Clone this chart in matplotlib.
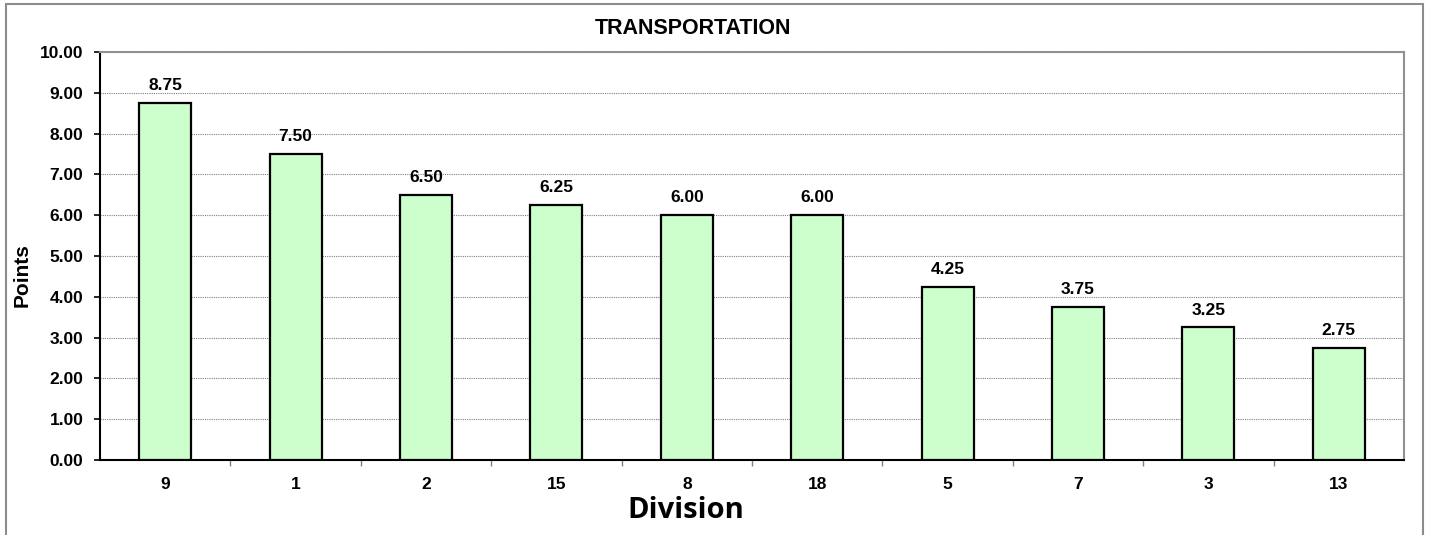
import matplotlib.pyplot as plt
import numpy as np
from matplotlib.patches import Rectangle

divisions = ["9", "1", "2", "15", "8", "18", "5", "7", "3", "13"]
points = [8.75, 7.50, 6.50, 6.25, 6.00, 6.00, 4.25, 3.75, 3.25, 2.75]
title = "TRANSPORTATION"

plt.rcParams['font.family'] = ['Liberation Sans', 'DejaVu Sans']
plt.rcParams['font.weight'] = 'bold'

fig = plt.figure(figsize=(14.29, 5.35), dpi=100)
ax = fig.add_axes([0.07, 0.1402, 0.9125, 0.7626])

x = np.arange(len(divisions))
bars = ax.bar(x, points, width=0.4, color='#CCFFCC', edgecolor='black', linewidth=1.6, zorder=3)
for xi, v in zip(x, points):
    ax.annotate('%.2f' % v, (xi, v), xytext=(0, 7), textcoords='offset points',
                ha='center', va='bottom', fontsize=12.5, fontweight='bold')

ax.set_xlim(-0.5, len(divisions) - 0.5)
ax.set_ylim(0, 10)
ax.set_yticks(np.arange(0, 11, 1))
ax.set_yticklabels(['%.2f' % t for t in np.arange(0, 11, 1)], fontsize=12.5, fontweight='bold')
ax.set_xticks(x)
ax.set_xticklabels(divisions, fontsize=12.5, fontweight='bold')
ax.set_xticks(np.arange(0.5, len(divisions) - 0.5, 1), minor=True)
ax.tick_params(axis='x', which='major', length=0, pad=12)
ax.tick_params(axis='x', which='minor', length=4, width=1, color='#808080')
ax.tick_params(axis='y', length=4, width=1.2, pad=8)

ax.grid(axis='y', linestyle=(0, (1, 1)), color='#808080', linewidth=0.8, zorder=0)
ax.spines['left'].set_linewidth(1.5)
ax.spines['bottom'].set_linewidth(1.5)
ax.spines['top'].set_color('#909090')
ax.spines['right'].set_color('#909090')
ax.spines['top'].set_linewidth(1.5)
ax.spines['right'].set_linewidth(1.5)

fig.text(693 / 1429, 1 - 28 / 535, title, ha='center', va='center', fontsize=15.5, fontweight='bold')
fig.text(22 / 1429, 1 - 275 / 535, 'Points', rotation=90, ha='center', va='center', fontsize=15, fontweight='bold')
fig.text(686 / 1429, 1 - 510 / 535, 'Division', ha='center', va='center', fontsize=21,
         fontweight='bold', family=['Open Sans', 'DejaVu Sans'])

fig.patches.append(Rectangle((6 / 1429, -0.1), 1417 / 1429, 1.1 - 4 / 535, transform=fig.transFigure,
                             fill=False, edgecolor='#8c8c8c', linewidth=1.5))

fig.savefig('out.png', dpi=100)
